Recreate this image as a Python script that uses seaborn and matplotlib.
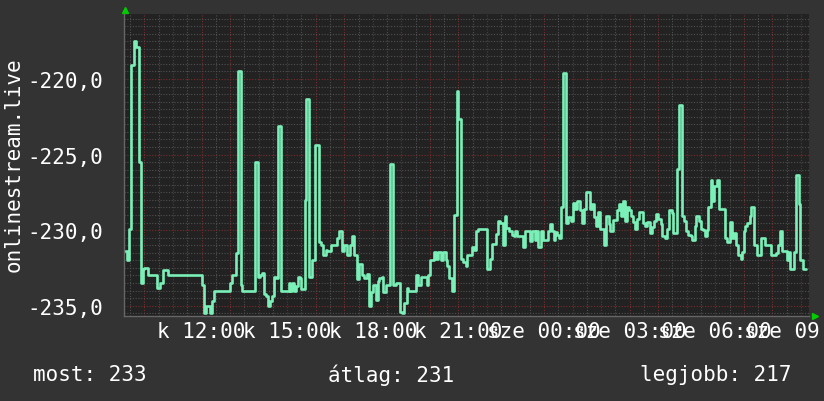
import matplotlib
matplotlib.use("Agg")
import matplotlib.pyplot as plt
import matplotlib.dates as mdates
from matplotlib.ticker import MultipleLocator, FuncFormatter
import pandas as pd
import seaborn as sns

# minutes after the window start (k 09:17) and the measured value
minutes = [2, 6, 11, 15, 20, 26, 31, 36, 39, 43, 50, 69, 76, 81, 92, 164, 169, 173, 181, 185,
           190, 223, 228, 235, 239, 245, 249, 276, 281, 286, 290, 295, 299, 302, 307, 311, 316, 320, 323, 330,
           346, 349, 354, 358, 361, 365, 370, 372, 380, 383, 389, 396, 402, 410, 414, 419, 424, 427, 435, 448,
           453, 459, 463, 468, 475, 480, 484, 489, 494, 501, 505, 510, 515, 519, 523, 529, 533, 537, 542, 545,
           550, 559, 565, 571, 580, 584, 589, 594, 598, 614, 619, 624, 636, 640, 643, 652, 656, 661, 666, 671,
           676, 680, 683, 689, 694, 699, 703, 708, 713, 718, 722, 731, 736, 741, 745, 764, 769, 773, 783, 787,
           791, 796, 800, 804, 809, 815, 819, 823, 827, 838, 843, 854, 858, 863, 867, 871, 876, 881, 892, 896,
           900, 904, 907, 911, 915, 919, 923, 929, 934, 939, 944, 949, 953, 958, 963, 968, 972, 979, 983, 988,
           992, 997, 1000, 1009, 1014, 1019, 1022, 1027, 1037, 1040, 1044, 1048, 1053, 1057, 1061, 1065, 1070, 1075, 1079, 1082,
           1091, 1096, 1100, 1105, 1109, 1114, 1118, 1123, 1128, 1132, 1137, 1142, 1146, 1151, 1155, 1162, 1166, 1172, 1177, 1181,
           1186, 1191, 1195, 1200, 1203, 1208, 1212, 1217, 1221, 1225, 1228, 1233, 1237, 1241, 1246, 1250, 1263, 1267, 1274, 1278,
           1282, 1287, 1291, 1296, 1300, 1303, 1306, 1310, 1315, 1319, 1324, 1331, 1340, 1347, 1361, 1371, 1375, 1379, 1383, 1393,
           1397, 1401, 1409, 1413, 1418, 1422, 1427, 1434]
values = [-231.4, -232.0, -229.9, -219.05, -217.5, -217.9, -225.5, -233.5, -232.6, -232.5, -233.0, -233.8, -233.5, -232.65, -233.0, -233.6, -235.5, -235.0, -235.5, -234.7,
          -234.0, -233.5, -233.0, -231.5, -219.45, -233.6, -234.0, -225.5, -233.1, -233.0, -232.85, -234.2, -234.35, -235.0, -234.7, -234.35, -233.07, -233.2, -223.1, -234.0,
          -233.5, -234.0, -233.5, -234.0, -233.7, -233.1, -233.2, -233.9, -228.0, -221.3, -233.07, -232.0, -224.35, -230.8, -231.0, -231.65, -231.3, -231.4, -231.0, -230.5,
          -230.05, -231.4, -231.0, -231.65, -231.0, -230.4, -231.65, -233.25, -232.25, -233.0, -233.2, -232.9, -235.0, -234.1, -233.65, -234.6, -233.35, -233.2, -233.07, -234.1,
          -233.65, -225.6, -233.65, -233.5, -235.45, -235.5, -234.8, -233.85, -234.0, -233.0, -233.6, -233.07, -233.6, -233.0, -232.0, -231.45, -231.9, -231.45, -232.0, -231.45,
          -232.0, -232.4, -233.15, -234.0, -229.0, -220.8, -222.65, -231.9, -232.1, -232.4, -231.65, -231.1, -231.3, -230.05, -229.9, -232.55, -231.9, -230.9, -230.25, -229.4,
          -229.5, -231.0, -229.05, -229.85, -230.05, -230.35, -230.4, -230.05, -230.4, -231.1, -230.05, -230.7, -230.05, -230.65, -230.05, -231.1, -230.05, -230.65, -230.05, -229.6,
          -230.05, -230.65, -230.1, -230.35, -230.5, -228.5, -219.6, -229.5, -229.1, -229.4, -228.2, -228.6, -228.1, -228.7, -229.5, -228.6, -227.5, -228.6, -228.3, -229.15,
          -229.7, -228.8, -229.9, -231.0, -229.05, -229.6, -230.05, -229.3, -228.7, -228.25, -229.05, -228.1, -229.4, -228.5, -228.7, -229.05, -229.45, -229.9, -229.25, -228.8,
          -229.5, -229.7, -229.45, -230.2, -229.8, -229.4, -228.95, -229.25, -229.6, -230.4, -230.55, -229.95, -228.7, -228.85, -230.2, -225.95, -221.7, -229.05, -229.4, -230.05,
          -230.35, -230.4, -230.65, -229.7, -229.05, -229.4, -229.9, -230.0, -230.4, -229.98, -228.45, -226.7, -228.05, -227.1, -226.7, -228.6, -230.5, -230.8, -229.45, -230.5,
          -230.2, -231.0, -231.65, -231.9, -231.45, -230.05, -229.7, -229.5, -229.05, -228.5, -231.0, -231.65, -230.5, -231.0, -231.65, -231.5, -231.0, -230.05, -231.4, -232.0,
          -231.45, -232.6, -231.45, -226.35, -228.3, -232.0, -232.6, -232.6]

summary = ["most: 233", "átlag: 231", "legjobb: 217"]
y_label = "onlinestream.live"
day_abbr = {0: "h", 1: "k", 2: "sze", 3: "cs", 4: "p", 5: "szo", 6: "v"}

start = pd.Timestamp("2024-03-05 09:17")
end = start + pd.Timedelta(minutes=1440)
df = pd.DataFrame({"time": start + pd.to_timedelta(minutes, unit="m"), "value": values})

sns.set_theme(style="dark")
plt.rcParams["font.family"] = ["DejaVu Sans Mono"]

bg = "#333333"
canvas = "#222222"
fig = plt.figure(figsize=(8.24, 4.02), dpi=100, facecolor=bg)
ax = fig.add_axes([124 / 824, (402 - 316.5) / 402, 685 / 824, 301.5 / 402])
ax.set_facecolor(canvas)

sns.lineplot(data=df, x="time", y="value", ax=ax, color="#7af0b8", linewidth=1.9,
             drawstyle="steps-post", estimator=None)

ax.set_xlim(start, end)
ax.set_ylim(-235.65, -215.7)

ax.xaxis.set_major_locator(mdates.HourLocator())
ax.xaxis.set_minor_locator(mdates.MinuteLocator(byminute=[0, 30]))


def time_label(x, pos):
    t = mdates.num2date(x)
    if t.hour % 3 != 0:
        return ""
    return f"{day_abbr[t.weekday()]} {t:%H:%M}"


ax.xaxis.set_major_formatter(FuncFormatter(time_label))
ax.yaxis.set_major_locator(MultipleLocator(5))
ax.yaxis.set_minor_locator(MultipleLocator(0.5))
ax.yaxis.set_major_formatter(FuncFormatter(lambda v, p: f"{v:.1f}".replace(".", ",")))

ax.set_axisbelow(True)
ax.grid(which="minor", color="#505050", linestyle=(0, (1, 1.5)), linewidth=0.8)
ax.grid(which="major", color="#7a2c2c", linestyle=(0, (1, 1.5)), linewidth=0.8)

ax.tick_params(which="both", colors="#777777", labelcolor="white", labelsize=15, length=2)
ax.tick_params(axis="y", which="major", pad=13)
ax.tick_params(axis="x", which="major", pad=2)

for side in ["top", "right"]:
    ax.spines[side].set_visible(False)
for side in ["left", "bottom"]:
    ax.spines[side].set_color("#666666")
    ax.spines[side].set_linewidth(1)

ax.set_xlabel("")
ax.set_ylabel("")
fig.text(13.5 / 824, 1 - 165 / 402, y_label, rotation=90, ha="center", va="center",
         color="white", fontsize=15)

# rrdtool style arrows at the axis ends
ax.plot([0.002], [1.013], marker="^", color="#00cc00", markersize=5,
        transform=ax.transAxes, clip_on=False)
ax.plot([1.009], [0.0], marker=">", color="#00cc00", markersize=5,
        transform=ax.transAxes, clip_on=False)

fig.text(33 / 824, 1 - 375 / 402, summary[0], ha="left", va="center", color="white", fontsize=15)
fig.text(328 / 824, 1 - 375 / 402, summary[1], ha="left", va="center", color="white", fontsize=15)
fig.text(791 / 824, 1 - 375 / 402, summary[2], ha="right", va="center", color="white", fontsize=15)

fig.savefig("out.png", dpi=100, facecolor=bg)
